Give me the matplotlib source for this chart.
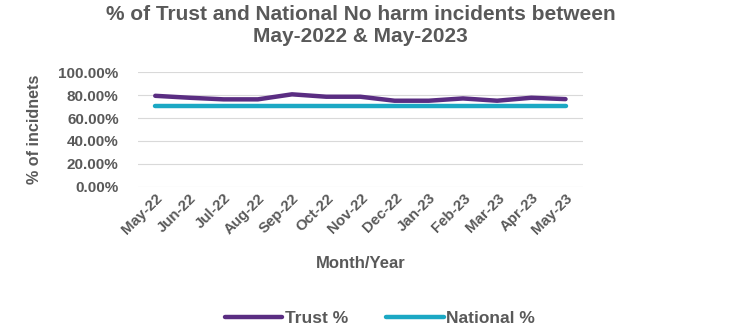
import matplotlib
matplotlib.use("Agg")
import matplotlib.pyplot as plt
from matplotlib.ticker import FuncFormatter

months = ["May-22", "Jun-22", "Jul-22", "Aug-22", "Sep-22", "Oct-22", "Nov-22",
          "Dec-22", "Jan-23", "Feb-23", "Mar-23", "Apr-23", "May-23"]
trust = [79.5, 77.8, 76.4, 76.4, 80.8, 78.7, 78.7, 75.2, 75.2, 77.2, 75.2, 77.8, 76.6]
national = [70.5] * 13

plt.rcParams['font.family'] = ['Liberation Sans', 'DejaVu Sans']
gray = '#595959'

fig = plt.figure(figsize=(7.31, 3.29), dpi=100)
ax = fig.add_axes([0.189, 0.4326, 0.608, 0.3474])
x = list(range(len(months)))
ax.plot(x, trust, color='#5a2d82', lw=3.2, label='Trust %', solid_capstyle='round')
ax.plot(x, national, color='#1ba8c4', lw=3.2, label='National %', solid_capstyle='round')
ax.set_xlim(-0.5, len(months) - 0.5)
ax.set_ylim(0, 100)
ax.set_yticks([0, 20, 40, 60, 80, 100])
ax.yaxis.set_major_formatter(FuncFormatter(lambda v, p: f"{v:.2f}%"))
ax.grid(axis='y', color='#d9d9d9', lw=0.8)
ax.set_axisbelow(True)
for s in ax.spines.values():
    s.set_visible(False)
ax.tick_params(axis='both', length=0, colors=gray)
ax.set_xticks(x)
ax.set_xticklabels(months, rotation=45, ha='right', rotation_mode='anchor',
                   fontsize=10.8, fontweight='bold', color=gray)
for lab in ax.get_yticklabels():
    lab.set_fontsize(11)
    lab.set_fontweight('bold')
    lab.set_color(gray)
ax.tick_params(axis='y', pad=14)
ax.tick_params(axis='x', pad=3)
ax.set_xlabel('Month/Year', fontsize=12, fontweight='bold', color=gray, labelpad=14)
ax.set_ylabel('% of incidnets', fontsize=11.6, fontweight='bold', color=gray, labelpad=12)
fig.suptitle('% of Trust and National No harm incidents between\nMay-2022 & May-2023',
             x=0.493, y=0.985, fontsize=15, fontweight='bold', color=gray, linespacing=1.2)
leg = fig.legend(loc='center', bbox_to_anchor=(0.52, 0.033), ncol=2, frameon=False,
                 handlelength=3.3, columnspacing=2.2, handletextpad=0.15,
                 prop={'size': 12.5, 'weight': 'bold'})
for t in leg.get_texts():
    t.set_color(gray)
fig.savefig('out.png', dpi=100)
